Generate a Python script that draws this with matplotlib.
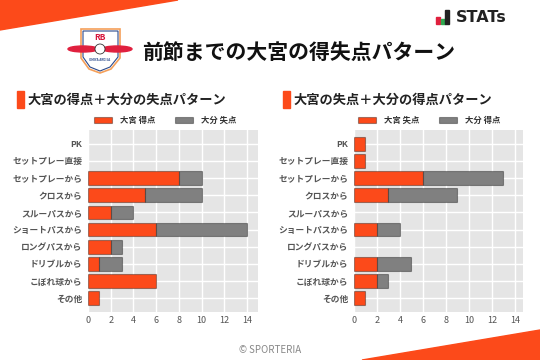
"""前節までの大宮の得失点パターン"""

import matplotlib.pyplot as plt
import numpy as np
from matplotlib.patches import Polygon, Rectangle, Ellipse

plt.rcParams["font.family"] = ["Noto Sans CJK JP", "DejaVu Sans"]

CATEGORIES = ["PK", "セットプレー直接", "セットプレーから", "クロスから", "スルーパスから",
              "ショートパスから", "ロングパスから", "ドリブルから", "こぼれ球から", "その他"]

# left: 大宮の得点 + 大分の失点
omiya_goals = [0, 0, 8, 5, 2, 6, 2, 1, 6, 1]
oita_conceded = [0, 0, 2, 5, 2, 8, 1, 2, 0, 0]
# right: 大宮の失点 + 大分の得点
omiya_conceded = [1, 1, 6, 3, 0, 2, 0, 2, 2, 1]
oita_goals = [0, 0, 7, 6, 0, 2, 0, 3, 1, 0]

X_TICKS = [0, 2, 4, 6, 8, 10, 12, 14]

ORANGE = "#FC4A1A"
GRAY = "#808080"
W, H = 540, 360


def px(x, y):
    """pixel coords (top-left origin) -> figure fraction"""
    return x / W, 1 - y / H


def draw_panel(fig, left, right, title, first, second, labels, xmax, leg_x):
    top, bottom = 130, 312
    ax = fig.add_axes([left / W, 1 - bottom / H, (right - left) / W, (bottom - top) / H])
    ax.set_facecolor("#E5E5E5")
    first = np.asarray(first)
    second = np.asarray(second)
    y = np.arange(len(CATEGORIES))
    edge = (0, 0, 0, 0.35)
    # skip zero-length bars so no stray edge lines show up
    m1, m2 = first > 0, second > 0
    ax.barh(y[m1], first[m1], height=0.8, color=ORANGE, edgecolor=edge,
            linewidth=0.8, zorder=3, label=labels[0])
    ax.barh(y[m2], second[m2], left=first[m2], height=0.8, color=GRAY, edgecolor=edge,
            linewidth=0.8, zorder=3, label=labels[1])
    ax.set_yticks(y)
    ax.set_yticklabels(CATEGORIES, fontsize=6.3, fontweight="bold", color="#555555")
    ax.set_xticks(X_TICKS)
    ax.tick_params(axis="x", labelsize=6.5, labelcolor="#555555", length=0, pad=3)
    ax.tick_params(axis="y", length=0, pad=4)
    ax.set_ylim(len(CATEGORIES) - 0.2, -0.8)
    ax.set_xlim(0, xmax)
    ax.grid(True, color="white", linewidth=1.0, zorder=0)
    for s in ax.spines.values():
        s.set_visible(False)
    ax.legend(loc="lower center", bbox_to_anchor=(leg_x, 1.0), ncol=2, frameon=False,
              prop={"size": 6, "weight": "bold"}, handlelength=2.2, handleheight=0.7,
              handletextpad=0.9, columnspacing=2.4, borderaxespad=0.2,
              labelcolor="#333333")
    # section title
    fig.patches.append(Rectangle(px(left - 71, 108), 7 / W, 17 / H, color=ORANGE,
                                 transform=fig.transFigure))
    fig.text(*px(left - 60, 100), title, fontsize=9.5, fontweight="bold",
             va="center", ha="left", color="#222222")
    return ax


fig = plt.figure(figsize=(5.4, 3.6), dpi=100)
fig.patch.set_facecolor("white")

# corner decorations
fig.patches.append(Polygon([px(0, 0), px(178, 0), px(0, 30)], closed=True,
                           color=ORANGE, transform=fig.transFigure))
fig.patches.append(Polygon([px(362, 360), px(540, 330), px(540, 360)], closed=True,
                           color=ORANGE, transform=fig.transFigure))

# club crest (simplified)
crest = [px(81, 29), px(120, 29), px(120, 58), px(111, 69), px(100, 73), px(89, 69), px(81, 58)]
fig.patches.append(Polygon(crest, closed=True, facecolor="white", edgecolor="#F5A05A",
                           linewidth=1.2, transform=fig.transFigure))
inner = [px(83, 31), px(118, 31), px(118, 57), px(110, 67), px(100, 71), px(90, 67), px(83, 57)]
fig.patches.append(Polygon(inner, closed=True, facecolor="white", edgecolor="#2B4A8C",
                           linewidth=0.8, transform=fig.transFigure))
fig.text(*px(100, 37), "RB", fontsize=6, fontweight="bold", color="#D6163C",
         ha="center", va="center")
fig.patches.append(Ellipse(px(83, 49), 30 / W, 6 / H, color="#E0203E",
                           transform=fig.transFigure))
fig.patches.append(Ellipse(px(117, 49), 30 / W, 6 / H, color="#E0203E",
                           transform=fig.transFigure))
fig.patches.append(Ellipse(px(100, 49), 10 / W, 10 / H, facecolor="white", edgecolor="#333333",
                           linewidth=0.6, transform=fig.transFigure))
fig.text(*px(100, 60), "OMIYA ARDIJA", fontsize=2.2, fontweight="bold", color="#2B4A8C",
         ha="center", va="center")

fig.text(*px(142, 52), "前節までの大宮の得失点パターン", fontsize=15, fontweight="bold",
         ha="left", va="center", color="#111111")

# STATs mark
for bx, bh, c in [(436, 7, "#E0203E"), (441, 5, "#2FA84F"), (445, 14, "#222222")]:
    fig.patches.append(Rectangle(px(bx, 24), 4 / W, bh / H, color=c, transform=fig.transFigure))
fig.text(*px(456, 17), "STATs", fontsize=11.5, fontweight="bold", family="DejaVu Sans",
         ha="left", va="center", color="#222222")

draw_panel(fig, 88, 258, "大宮の得点＋大分の失点パターン", omiya_goals, oita_conceded,
           ["大宮 得点", "大分 失点"], 14.96, 0.453)
draw_panel(fig, 354, 523, "大宮の失点＋大分の得点パターン", omiya_conceded, oita_goals,
           ["大宮 失点", "大分 得点"], 14.7, 0.444)

fig.text(*px(270, 350), "© SPORTERIA", fontsize=7, color="#888888", ha="center", va="center")

fig.savefig("out.png", dpi=100)
